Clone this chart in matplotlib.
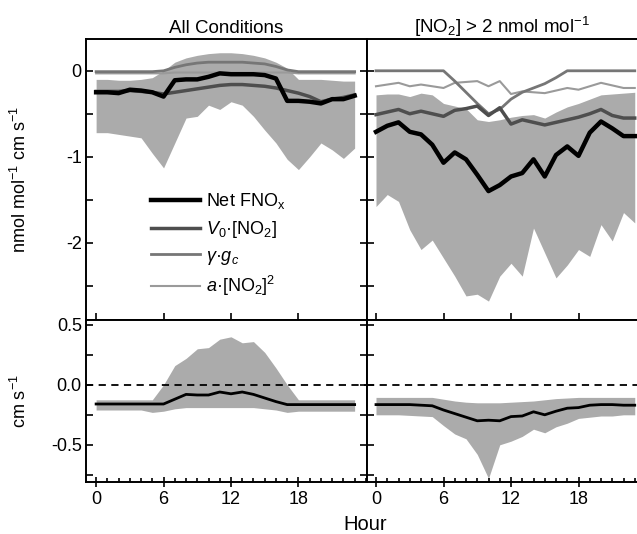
import matplotlib
matplotlib.use("Agg")
import matplotlib.pyplot as plt
import numpy as np
from matplotlib.ticker import MultipleLocator, FixedLocator

plt.rcParams['font.family'] = ['Liberation Sans', 'DejaVu Sans']
plt.rcParams['mathtext.fontset'] = 'custom'
plt.rcParams['mathtext.rm'] = 'Liberation Sans'
plt.rcParams['mathtext.it'] = 'Liberation Sans:italic'
plt.rcParams['mathtext.bf'] = 'Liberation Sans:bold'

hours = np.arange(24)

# ---- top left: all conditions (nmol mol-1 cm s-1)
all_net = [-0.25, -0.25, -0.26, -0.22, -0.23, -0.25, -0.30, -0.11, -0.10, -0.10, -0.07, -0.03,
           -0.04, -0.04, -0.04, -0.05, -0.09, -0.35, -0.35, -0.36, -0.38, -0.33, -0.33, -0.29]
all_v0 = [-0.24, -0.24, -0.24, -0.23, -0.24, -0.25, -0.27, -0.25, -0.23, -0.21, -0.19, -0.17,
          -0.16, -0.16, -0.17, -0.18, -0.20, -0.23, -0.26, -0.30, -0.36, -0.33, -0.31, -0.28]
all_gam = [-0.01, -0.01, -0.01, -0.01, -0.01, -0.01, 0.0, 0.04, 0.07, 0.09, 0.10, 0.10,
           0.10, 0.10, 0.09, 0.08, 0.05, 0.01, -0.01, -0.01, -0.01, -0.01, -0.01, -0.01]
all_a = [-0.03, -0.03, -0.03, -0.03, -0.03, -0.03, -0.03, -0.02, -0.02, -0.02, -0.02, -0.02,
         -0.02, -0.02, -0.02, -0.02, -0.02, -0.02, -0.03, -0.03, -0.03, -0.03, -0.03, -0.03]
all_hi = [-0.10, -0.10, -0.11, -0.11, -0.10, -0.08, 0.0, 0.10, 0.15, 0.18, 0.20, 0.21,
          0.21, 0.20, 0.18, 0.15, 0.10, 0.03, -0.10, -0.10, -0.10, -0.11, -0.12, -0.12]
all_lo = [-0.72, -0.72, -0.74, -0.76, -0.78, -0.96, -1.13, -0.84, -0.55, -0.53, -0.40, -0.45,
          -0.36, -0.40, -0.53, -0.69, -0.84, -1.03, -1.15, -1.00, -0.84, -0.92, -1.02, -0.90]

# ---- top right: [NO2] > 2 nmol mol-1
hi_net = [-0.71, -0.64, -0.60, -0.71, -0.74, -0.86, -1.07, -0.95, -1.03, -1.21, -1.40, -1.33,
          -1.23, -1.19, -1.03, -1.23, -0.98, -0.88, -0.99, -0.72, -0.59, -0.67, -0.76, -0.76]
hi_v0 = [-0.51, -0.48, -0.45, -0.50, -0.47, -0.50, -0.53, -0.46, -0.44, -0.41, -0.52, -0.43,
         -0.62, -0.57, -0.60, -0.63, -0.60, -0.57, -0.54, -0.50, -0.45, -0.52, -0.55, -0.55]
hi_gam = [0.0, 0.0, 0.0, 0.0, 0.0, 0.0, 0.0, -0.12, -0.25, -0.38, -0.50, -0.45,
          -0.33, -0.25, -0.20, -0.15, -0.08, 0.0, 0.0, 0.0, 0.0, 0.0, 0.0, 0.0]
hi_a = [-0.18, -0.16, -0.14, -0.18, -0.16, -0.18, -0.20, -0.14, -0.13, -0.12, -0.18, -0.12,
        -0.27, -0.24, -0.25, -0.26, -0.23, -0.20, -0.22, -0.18, -0.14, -0.17, -0.20, -0.20]
hi_hi = [-0.28, -0.27, -0.27, -0.30, -0.26, -0.28, -0.38, -0.41, -0.44, -0.57, -0.59, -0.57,
         -0.54, -0.52, -0.51, -0.55, -0.48, -0.42, -0.38, -0.33, -0.28, -0.27, -0.26, -0.25]
hi_lo = [-1.58, -1.44, -1.52, -1.85, -2.08, -1.97, -2.18, -2.39, -2.62, -2.60, -2.68, -2.39,
         -2.24, -2.39, -1.83, -2.12, -2.41, -2.26, -2.08, -2.16, -1.79, -1.98, -1.65, -1.77]

# ---- bottom: deposition velocity (cm s-1)
all_vd = [-0.16, -0.16, -0.16, -0.16, -0.16, -0.16, -0.16, -0.12, -0.08, -0.085, -0.085, -0.06,
          -0.075, -0.06, -0.08, -0.11, -0.14, -0.165, -0.165, -0.165, -0.165, -0.165, -0.165, -0.165]
all_vd_hi = [-0.125, -0.125, -0.125, -0.125, -0.125, -0.125, 0.0, 0.16, 0.22, 0.30, 0.31, 0.38,
             0.40, 0.35, 0.36, 0.27, 0.14, 0.0, -0.125, -0.125, -0.125, -0.125, -0.125, -0.125]
all_vd_lo = [-0.21, -0.21, -0.21, -0.21, -0.21, -0.23, -0.22, -0.20, -0.19, -0.19, -0.19, -0.19,
             -0.19, -0.19, -0.19, -0.20, -0.21, -0.23, -0.22, -0.22, -0.22, -0.22, -0.22, -0.22]
hi_vd = [-0.165, -0.165, -0.165, -0.165, -0.17, -0.175, -0.21, -0.24, -0.27, -0.30, -0.295, -0.30,
         -0.265, -0.26, -0.225, -0.25, -0.22, -0.195, -0.19, -0.17, -0.165, -0.165, -0.17, -0.17]
hi_vd_hi = [-0.105, -0.105, -0.105, -0.105, -0.105, -0.105, -0.12, -0.135, -0.145, -0.15, -0.15, -0.15,
            -0.145, -0.14, -0.135, -0.125, -0.115, -0.11, -0.105, -0.105, -0.105, -0.105, -0.105, -0.105]
hi_vd_lo = [-0.25, -0.25, -0.25, -0.255, -0.26, -0.265, -0.34, -0.41, -0.45, -0.58, -0.78, -0.50,
            -0.47, -0.43, -0.37, -0.40, -0.35, -0.32, -0.28, -0.27, -0.26, -0.26, -0.25, -0.25]

band = '#ababab'
fs = 13

fig = plt.figure(figsize=(6.37, 5.34), dpi=100)
W, H = 637.0, 534.0
def box(x0, x1, y0, y1):
    return [x0 / W, 1 - y1 / H, (x1 - x0) / W, (y1 - y0) / H]

ax_tl = fig.add_axes(box(86, 367, 39, 320))
ax_tr = fig.add_axes(box(367, 637, 39, 320))
ax_bl = fig.add_axes(box(86, 367, 320, 482))
ax_br = fig.add_axes(box(367, 637, 320, 482))

def top_panel(ax, lo, hi, net, v0, gam, a):
    ax.fill_between(hours, lo, hi, color=band, lw=0)
    ax.plot(hours, a, color='#9a9a9a', lw=1.5, label=r'$\mathit{a}$·[NO$_2$]$^2$')
    ax.plot(hours, gam, color='#767676', lw=2, label=r'$\mathit{\gamma}$·$\mathit{g_c}$')
    ax.plot(hours, v0, color='#4e4e4e', lw=2.5, label=r'$\mathit{V_0}$·[NO$_2$]')
    ax.plot(hours, net, color='black', lw=3.2, label=r'Net FNO$_\mathrm{x}$')
    ax.set_ylim(-2.9, 0.37)
    ax.yaxis.set_major_locator(FixedLocator([-2, -1, 0]))
    ax.yaxis.set_minor_locator(FixedLocator([-2.5, -1.5, -0.5]))
    ax.xaxis.set_major_locator(FixedLocator([0, 6, 12, 18]))
    ax.set_xticklabels([])
    ax.tick_params(axis='x', which='major', direction='in', length=5)

def bottom_panel(ax, lo, hi, vd):
    ax.fill_between(hours, lo, hi, color=band, lw=0)
    ax.axhline(0, color='black', lw=1.3, ls=(0, (4, 3)))
    ax.plot(hours, vd, color='black', lw=2)
    ax.set_ylim(-0.81, 0.54)
    ax.yaxis.set_major_locator(FixedLocator([-0.5, 0.0, 0.5]))
    ax.yaxis.set_minor_locator(FixedLocator([-0.75, -0.25, 0.25]))
    ax.xaxis.set_major_locator(FixedLocator([0, 6, 12, 18]))
    ax.xaxis.set_minor_locator(MultipleLocator(1))
    ax.tick_params(axis='x', which='major', direction='inout', length=7)
    ax.tick_params(axis='x', which='minor', direction='in', length=3)

for ax in (ax_tl, ax_tr, ax_bl, ax_br):
    for s in ax.spines.values():
        s.set_linewidth(1.4)
    ax.tick_params(which='both', direction='in', top=False, right=True,
                   labelsize=fs, width=1.2, pad=3)
    ax.tick_params(axis='y', which='both', length=5)

top_panel(ax_tl, all_lo, all_hi, all_net, all_v0, all_gam, all_a)
top_panel(ax_tr, hi_lo, hi_hi, hi_net, hi_v0, hi_gam, hi_a)
bottom_panel(ax_bl, all_vd_lo, all_vd_hi, all_vd)
bottom_panel(ax_br, hi_vd_lo, hi_vd_hi, hi_vd)

for ax in (ax_tl, ax_bl):
    ax.set_xlim(-0.9, 24.1)
for ax in (ax_tr, ax_br):
    ax.set_xlim(-0.8, 23.2)
    ax.set_yticklabels([])
    ax.spines['right'].set_visible(False)
    ax.tick_params(which='both', right=False)

ax_bl.set_yticklabels(['-0.5', '0.0', '0.5'])
ax_tl.set_yticklabels(['-2', '-1', '0'])

ax_tl.set_title('All Conditions', fontsize=13.5, pad=4)
ax_tr.set_title(r'[NO$_2$] > 2 nmol mol$^{-1}$', fontsize=13.5, pad=4)
ax_tl.set_ylabel(r'nmol mol$^{-1}$ cm s$^{-1}$', fontsize=fs)
ax_bl.set_ylabel(r'cm s$^{-1}$', fontsize=fs)
ax_tl.yaxis.set_label_coords(-0.2, 0.5)
ax_bl.yaxis.set_label_coords(-0.2, 0.5)
fig.text(365 / W, 1 - 525 / H, 'Hour', ha='center', va='center', fontsize=fs + 1.5)

h, l = ax_tl.get_legend_handles_labels()
ax_tl.legend(h[::-1], l[::-1], loc='lower left', bbox_to_anchor=(0.2, 0.045),
             frameon=False, fontsize=fs, handlelength=2.7, handletextpad=0.35,
             labelspacing=0.42, borderpad=0)

fig.savefig('out.png', dpi=100)
